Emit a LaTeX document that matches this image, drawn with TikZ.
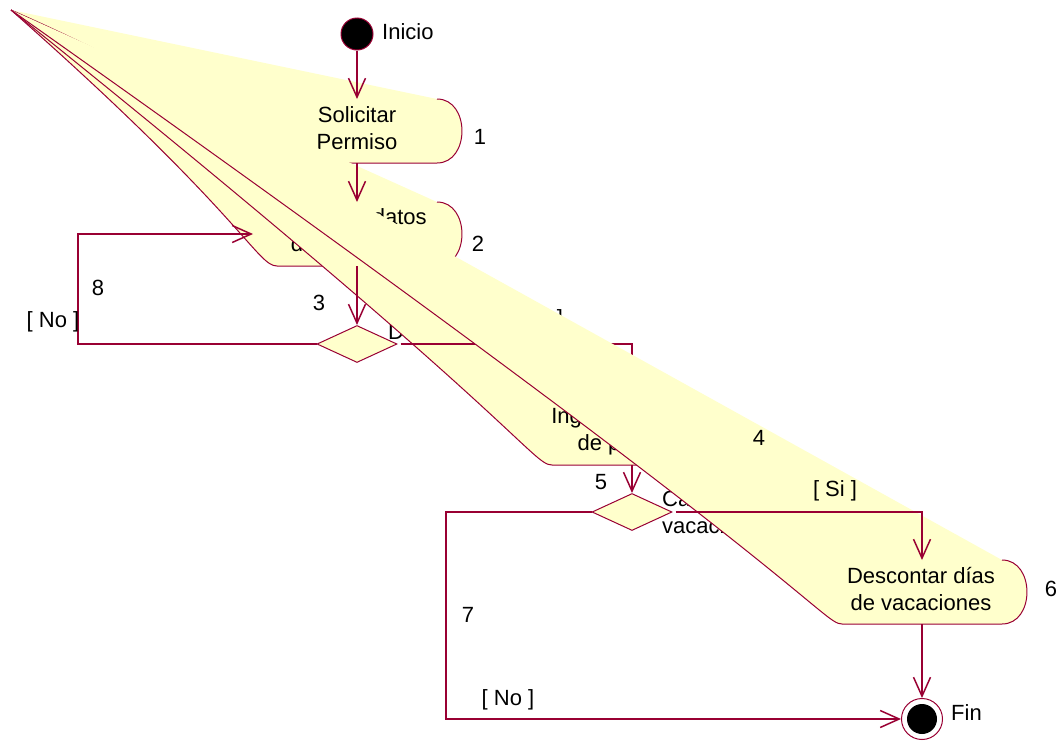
\documentclass[tikz,border=0pt]{standalone}
\usepackage{fontspec}
\setmainfont{Liberation Sans}
\usetikzlibrary{arrows.meta,shapes.geometric}
\definecolor{lc}{RGB}{153,0,51}
\definecolor{yf}{RGB}{255,255,204}
% #1 centre x, #2 top y, #3 bottom y ; left end collapses to the point (A)
\newcommand\actoutline[3]{({#1+80},#2) .. controls ({#1+113.3},#2) and ({#1+113.3},#3) .. ({#1+80},#3)
    -- ({#1-80},#3) .. controls ({#1-100},#3) and ({#1-113.3},{#2+13.4}) .. (A)}
\newcommand\actshape[3]{%
  \fill[yf] (A) -- \actoutline{#1}{#2}{#3} -- cycle;
  \draw[shline] \actoutline{#1}{#2}{#3};
}
\begin{document}
\begin{tikzpicture}[x=1pt,y=-1pt]
\tikzset{
  shline/.style={draw=lc, line width=1pt, line join=round},
  conn/.style={draw=lc, line width=1.5pt},
  arr/.style={conn, -{Straight Barb[length=19pt,width=17pt]}},
  lbl/.style={font=\fontsize{22}{27}\selectfont, inner sep=0pt},
  txt/.style={lbl, align=center},
  dec/.style={diamond, draw=lc, fill=yf, line width=1pt, minimum width=80pt, minimum height=37pt, inner sep=0pt},
}
\useasboundingbox (0,0) rectangle (1058,742);
\coordinate (A) at (11,10);
% named anchor points of activities
\coordinate (s1t) at (357,99);  \coordinate (s1b) at (357,163);
\coordinate (s2t) at (357,202); \coordinate (s2b) at (357,266); \coordinate (s2w) at (253,234);
\coordinate (s4t) at (632,404); \coordinate (s4b) at (632,465);
\coordinate (s6t) at (922,560); \coordinate (s6b) at (922,624);
\coordinate (c8) at (78,290);
\coordinate (c7) at (446,620);

% activity 1
\actshape{357}{99}{163}
\node[txt] (t1) at (357,128) {Solicitar\\Permiso};
% activity 2
\actshape{357}{202}{266}
\node[txt] (t2) at (357,232) {Verificar datos\\del empleado};
% decision 3
\node[dec] (d3) at (357,344) {};
\node[lbl, anchor=base west] (l3) at (388,339) {Datos OK?};
% activity 4
\actshape{632}{404}{465}
\node[txt] (t4) at (632,431) {Ingresar período\\de permiso};
% connectors hidden under activity 6
\draw[conn, shorten <=3pt] (d3.east) -| (s4t);
\node[lbl, anchor=base] (si3) at (541,325) {[ Si ]};
\node[dec] (d5) at (632,512) {};
\node[lbl, anchor=base west] (l5a) at (662,506) {Cantidad de};
\node[lbl, anchor=base west] (l5b) at (662,533) {vacaciones?};
% activity 6
\actshape{922}{560}{624}
\node[txt] (t6) at (921,589) {Descontar días\\de vacaciones};

% start / end
\node[circle, fill=black, draw=lc, line width=1pt, minimum size=32pt, inner sep=0pt] (ini) at (357,34) {};
\node[lbl, anchor=base west] (lini) at (382,39) {Inicio};
\node[circle, draw=lc, fill=white, line width=1pt, minimum size=41pt, inner sep=0pt] (fin) at (922,719) {};
\fill[black] (fin.center) circle[radius=15pt];
\node[lbl, anchor=base west] (lfin) at (951,720) {Fin};

\draw[arr] (ini) -- (s1t);
\draw[arr] (s1b) -- (s2t);
\draw[arr] (s2b) -- (d3);
\draw[arr] (d3.west) -| (c8) |- (s2w);
\draw[arr] (s4b) -- (d5);
\draw[arr, shorten <=3pt] (d5.east) -| (s6t);
\draw[arr] (s6b) -- (fin);
\draw[arr] (d5.west) -| (c7) |- (fin);

% labels
\node[lbl, anchor=base] (n1) at (480,144) {1};
\node[lbl, anchor=base] (n2) at (478,251) {2};
\node[lbl, anchor=base] (n3) at (319,310) {3};
\node[lbl, anchor=base] (n8) at (98,295) {8};
\node[lbl, anchor=base] (no8) at (53,327) {[ No ]};
\node[lbl, anchor=base] (n4) at (759,445) {4};
\node[lbl, anchor=base] (n5) at (601,489) {5};
\node[lbl, anchor=base] (si5) at (835,496) {[ Si ]};
\node[lbl, anchor=base] (n6) at (1051,596) {6};
\node[lbl, anchor=base] (n7) at (468,622) {7};
\node[lbl, anchor=base] (no7) at (508,705) {[ No ]};
\end{tikzpicture}
\end{document}
